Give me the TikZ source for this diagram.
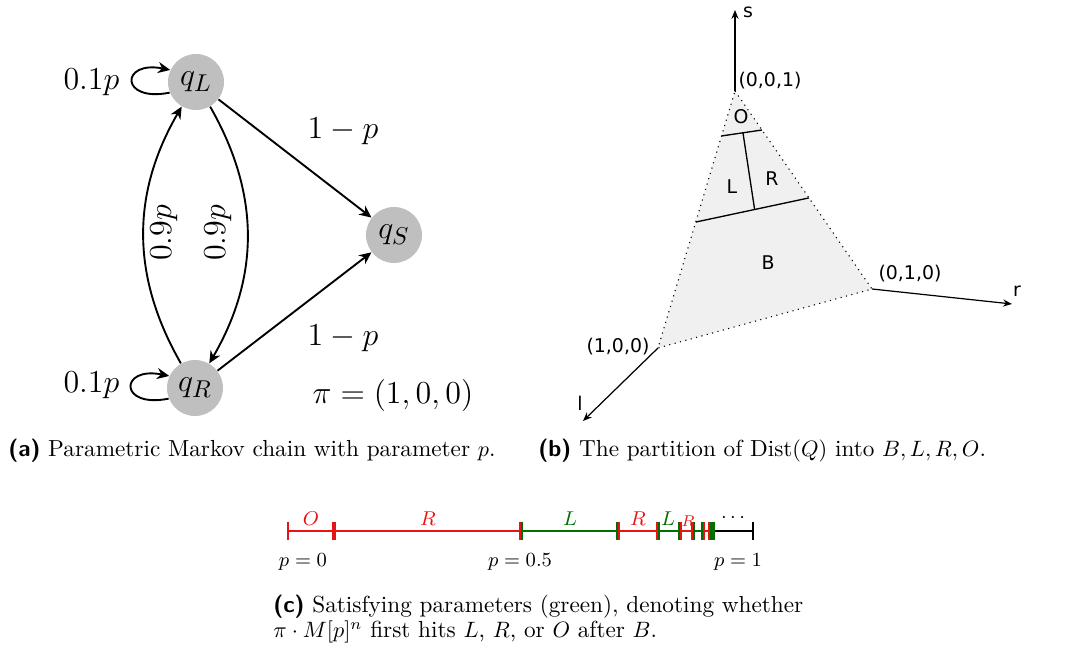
\documentclass[tikz,border=0pt]{standalone}
\usepackage{fontspec}
\newfontfamily\dvs{DejaVu Sans}
\usetikzlibrary{arrows.meta,calc}
\definecolor{lred}{RGB}{230,20,20}
\definecolor{lgreen}{RGB}{0,110,0}
\begin{document}
\begin{tikzpicture}[x=0.45pt,y=-0.45pt,
  statenode/.style={circle,fill=black!25,minimum size=25.2pt,inner sep=0pt,font=\fontsize{15.7}{19}\selectfont},
  bigtext/.style={font=\fontsize{15.7}{19}\selectfont,inner sep=1pt},
  edgearrow/.style={line width=0.85pt,-{Stealth[length=5.5pt,width=5pt,inset=1.8pt]}},
  axisarrow/.style={line width=0.55pt,-{Stealth[length=4pt,width=3.2pt]}},
  dlab/.style={font=\dvs\fontsize{8.5}{10}\selectfont,inner sep=0pt},
  captext/.style={font=\fontsize{10.45}{11}\selectfont,inner sep=0pt},
  nltext/.style={font=\fontsize{8.6}{10}\selectfont,inner sep=0pt},
  segline/.style={line width=0.9pt},
  tickline/.style={line width=0.9pt}
]
\useasboundingbox (0,0) rectangle (1065,645);

% ---------- (a) Markov chain ----------
\node[statenode] (qL) at (196,82) {$q_L$};
\node[statenode] (qS) at (394,235) {$q_S$};
\node[statenode] (qR) at (195,388) {$q_R$};

\draw[edgearrow] (qL.202) .. controls +(-50,10) and +(-50,-10) .. (qL.155);
\draw[edgearrow] (qR.202) .. controls +(-50,10) and +(-50,-10) .. (qR.155);
\node[bigtext,anchor=east] (lL) at (122,82) {$0.1p$};
\node[bigtext,anchor=east] (lR) at (122,385) {$0.1p$};

\draw[edgearrow] (qL) -- (qS);
\draw[edgearrow] (qR) -- (qS);
\draw[edgearrow] (qR) to[bend left=30] (qL);
\draw[edgearrow] (qL) to[bend left=30] (qR);

\node[bigtext] (e1) at (343,131) {$1-p$};
\node[bigtext] (e2) at (343,338) {$1-p$};
\node[bigtext,rotate=90] (e3) at (164,233) {$0.9p$};
\node[bigtext,rotate=90] (e4) at (218,233) {$0.9p$};
\node[bigtext] (pi) at (393,396) {$\pi=(1,0,0)$};

\node[captext,anchor=base west] (capa) at (8,457) {{\sffamily\bfseries (a)} Parametric Markov chain with parameter $p$.};

% ---------- (b) simplex ----------
\coordinate (A) at (735,91);
\coordinate (B) at (872,289);
\coordinate (C) at (658,348);
\fill[black!6] (A) -- (B) -- (C) -- cycle;
\draw[dotted,line width=0.5pt] (A) -- (B) -- (C) -- cycle;
\draw[axisarrow] (A) -- (735,10);
\draw[axisarrow] (B) -- (1012,304);
\draw[axisarrow] (C) -- (583,421);

\coordinate (b1) at ($(C)!0.49!(A)$);
\coordinate (b2) at ($(A)!0.54!(B)$);
\coordinate (o1) at ($(C)!0.825!(A)$);
\coordinate (o2) at ($(A)!0.197!(B)$);
\draw[line width=0.6pt] (b1) -- (b2);
\draw[line width=0.6pt] (o1) -- (o2);
\draw[line width=0.6pt] ($(o1)!0.53!(o2)$) -- ($(b1)!0.52!(b2)$);

\node[dlab] (tA) at (770,81) {(0,0,1)};
\node[dlab] (tB) at (910,274) {(0,1,0)};
\node[dlab] (tC) at (618,347) {(1,0,0)};
\node[dlab] (ts) at (748,12) {s};
\node[dlab] (tr) at (1017,291) {r};
\node[dlab] (tl) at (580,403) {l};
\node[dlab] (rO) at (741,117) {O};
\node[dlab] (rL) at (732,187) {L};
\node[dlab] (rR) at (772,179) {R};
\node[dlab] (rB) at (768,263) {B};

\node[captext,anchor=base west] (capb) at (538,457) {{\sffamily\bfseries (b)} The partition of $\mathrm{Dist}(Q)$ into $B,L,R,O$.};

% ---------- (c) number line ----------
\draw[segline,lred] (288,531) -- (520.5,531);
\draw[segline,lgreen] (520.5,531) -- (618,531);
\draw[segline,lred] (618,531) -- (658,531);
\draw[segline,lgreen] (658,531) -- (680,531);
\draw[segline,lred] (680,531) -- (693,531);
\draw[segline,lgreen] (693,531) -- (703,531);
\draw[segline,lred] (703,531) -- (710,531);
\draw[segline,lgreen] (710,531) -- (713,531);
\draw[segline,black] (713,531) -- (753,531);
\draw[tickline,lred] (288,522) -- (288,540);
\draw[tickline,black] (753,522) -- (753,540);
\foreach \x/\ca/\cb in {334/lred/lred,520.5/lred/lgreen,618/lgreen/lred,658/lred/lgreen,680/lgreen/lred,693/lred/lgreen,703/lgreen/lred,710/lred/lgreen,713/lgreen/lgreen}{
  \draw[tickline,\ca] (\x-1,522) -- (\x-1,540);
  \draw[tickline,\cb] (\x+1,522) -- (\x+1,540);
}
\node[nltext,lred] (nO) at (311,519) {$O$};
\node[nltext,lred] (nR1) at (428,519) {$R$};
\node[nltext,lgreen] (nL1) at (570,519) {$L$};
\node[nltext,lred] (nR2) at (638,519) {$R$};
\node[nltext,lgreen] (nL2) at (668,519) {$L$};
\node[nltext,lred,font=\fontsize{7}{8}\selectfont] (nR3) at (688,521) {$R$};
\node[nltext] (ndots) at (733,518) {$\cdots$};
\node[nltext] (p0) at (303,562) {$p=0$};
\node[nltext] (p5) at (520,562) {$p=0.5$};
\node[nltext] (p1) at (738,562) {$p=1$};

\node[captext,anchor=north west,align=left] (capc) at (273,595) {{\sffamily\bfseries (c)} Satisfying parameters (green), denoting whether\\$\pi\cdot M[p]^n$ first hits $L$, $R$, or $O$ after $B$.};
\end{tikzpicture}
\end{document}
